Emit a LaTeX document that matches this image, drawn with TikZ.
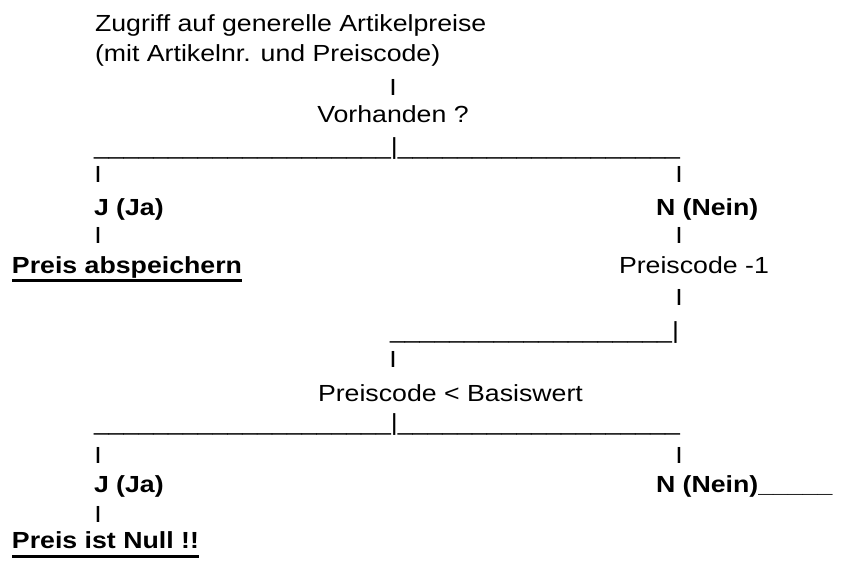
\documentclass[tikz,border=0pt]{standalone}
\usepackage{fontspec}
\setmainfont{Liberation Sans}[FakeStretch=1.146]

% a run of n underscore characters
\newcount\undcnt
\newcommand\unds[1]{\undcnt=#1\relax\loop\ifnum\undcnt>0 \_\advance\undcnt by -1\relax\repeat}

\tikzset{
  txt/.style={inner sep=0pt, outer sep=0pt, anchor=base west,
              font=\fontsize{23.3pt}{28pt}\selectfont},
  boldtxt/.style={txt, font=\fontsize{23.3pt}{28pt}\selectfont\bfseries},
  bartxt/.style={txt, anchor=base},
  ulined/.style={line width=2.6pt}
}

\begin{document}
\begin{tikzpicture}[x=1pt, y=-1pt]
  \useasboundingbox (0,0) rectangle (842,561);

  % query
  \node[txt] (query1) at (95,32) {Zugriff auf generelle Artikelpreise};
  \node[txt] (query2) at (95,62) {(mit Artikelnr. und Preiscode)};
  \node[bartxt] (bar1) at (393,96) {I};
  \node[bartxt] (cond1) at (393,123) {Vorhanden ?};

  % first branch
  \node[txt] (split1) at (94,155) {\unds{20}|\unds{19}};
  \node[bartxt] (bar2l) at (98,183) {I};
  \node[bartxt] (bar2r) at (679,183) {I};
  \node[boldtxt] (yes1) at (94,215) {J (Ja)};
  \node[boldtxt] (no1) at (656,215) {N (Nein)};
  \node[bartxt] (bar3l) at (98,243) {I};
  \node[bartxt] (bar3r) at (679,243) {I};
  \node[boldtxt] (save) at (12,273) {Preis abspeichern};
  \draw[ulined] ([yshift=-7.5pt]save.base west) -- ([yshift=-7.5pt]save.base east);
  \node[txt] (dec) at (619,273) {Preiscode -1};
  \node[bartxt] (bar4) at (679,305) {I};

  % back to the second check
  \node[txt] (join) at (390,338) {\unds{19}|};
  \node[bartxt] (bar5) at (393,367) {I};
  \node[txt] (cond2) at (318,401) {Preiscode < Basiswert};

  % second branch
  \node[txt] (split2) at (94,430) {\unds{20}|\unds{19}};
  \node[bartxt] (bar6l) at (98,463) {I};
  \node[bartxt] (bar6r) at (679,463) {I};
  \node[boldtxt] (yes2) at (94,492) {J (Ja)};
  \node[boldtxt] (no2) at (656,492) {N (Nein)\unds{5}};
  \node[bartxt] (bar7) at (98,522) {I};
  \node[boldtxt] (zero) at (12,548) {Preis ist Null !!};
  \draw[ulined] ([yshift=-8.5pt]zero.base west) -- ([yshift=-8.5pt]zero.base east);
\end{tikzpicture}
\end{document}
